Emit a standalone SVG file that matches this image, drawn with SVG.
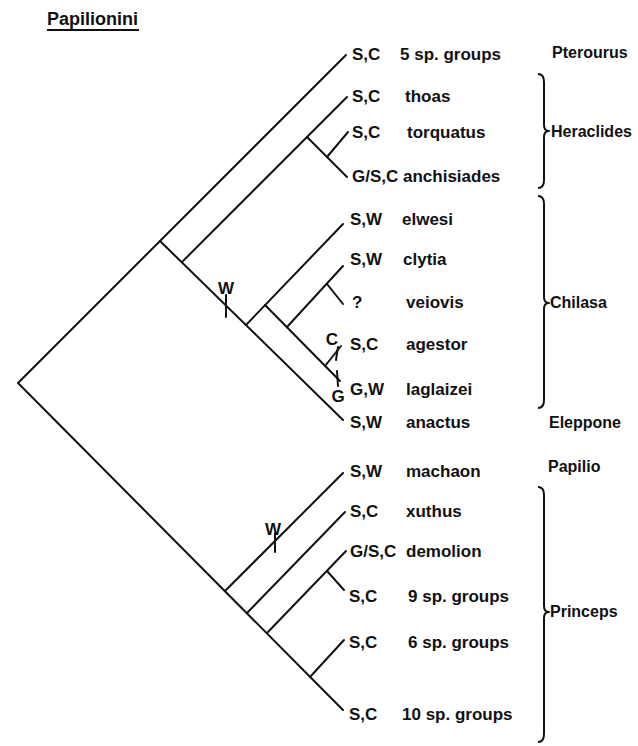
<svg xmlns="http://www.w3.org/2000/svg" width="638" height="746" viewBox="0 0 638 746">
  <style>
    .br { fill: none; stroke: #111; stroke-width: 2; stroke-linecap: round; stroke-linejoin: round; }
    .brace { fill: none; stroke: #111; stroke-width: 2; stroke-linejoin: round; }
    text { font-family: "Liberation Sans", Arial, sans-serif; font-weight: bold; fill: #111; }
    .lb { font-size: 17px; }
    .grp { font-size: 16px; }
    .tk { font-size: 17px; text-anchor: middle; }
    .title { font-size: 18px; }
  </style>
  <rect width="638" height="746" fill="#fff"/>

  <g id="title">
    <text class="title" x="47" y="25">Papilionini</text>
    <line x1="47" y1="30" x2="139" y2="30" stroke="#111" stroke-width="2.2"/>
  </g>

  <!-- tree branches -->
  <g id="connectors" class="br">
    <!-- upper clade -->
    <path d="M346 55 L18 383 L343 710"/>
    <path d="M160 241 L343 420"/>
    <path d="M182 262 L347 97"/>
    <path d="M307 137 L347 177"/>
    <path d="M327 157 L348 132"/>
    <path d="M246 325 L343 224"/>
    <path d="M265 305 L340 381"/>
    <path d="M287 327 L343 266"/>
    <path d="M327 284 L343 304"/>
    <path d="M325 366 L341 346"/>
    <!-- lower clade -->
    <path d="M225 591 L343 473"/>
    <path d="M247 613 L345 512"/>
    <path d="M267 633 L346 551"/>
    <path d="M327 571 L344 590"/>
    <path d="M310 677 L344 640"/>
    <!-- character-state ticks -->
    <path d="M226 295 L226 317"/>
    <path d="M275 533 L275 552"/>
    <path d="M336 360 L338 347"/>
    <path d="M337 371 L338 386"/>
  </g>

  <g id="ticks">
    <text class="tk" x="226" y="294">W</text>
    <text class="tk" x="273" y="535">W</text>
    <text class="tk" x="332" y="345">C</text>
    <text class="tk" x="338" y="402">G</text>
  </g>

  <!-- taxa -->
  <g id="pterourus"><text class="lb" x="352" y="60">S,C</text><text class="lb" x="400" y="60">5 sp. groups</text></g>
  <g id="thoas"><text class="lb" x="352" y="102">S,C</text><text class="lb" x="405" y="102">thoas</text></g>
  <g id="torquatus"><text class="lb" x="352" y="138">S,C</text><text class="lb" x="407" y="138">torquatus</text></g>
  <g id="anchisiades"><text class="lb" x="352" y="182">G/S,C</text><text class="lb" x="403" y="182">anchisiades</text></g>
  <g id="elwesi"><text class="lb" x="350" y="225">S,W</text><text class="lb" x="402" y="225">elwesi</text></g>
  <g id="clytia"><text class="lb" x="350" y="265">S,W</text><text class="lb" x="403" y="265">clytia</text></g>
  <g id="veiovis"><text class="lb" x="352" y="308">?</text><text class="lb" x="406" y="308">veiovis</text></g>
  <g id="agestor"><text class="lb" x="350" y="350">S,C</text><text class="lb" x="406" y="350">agestor</text></g>
  <g id="laglaizei"><text class="lb" x="350" y="395">G,W</text><text class="lb" x="406" y="395">laglaizei</text></g>
  <g id="anactus"><text class="lb" x="350" y="428">S,W</text><text class="lb" x="406" y="428">anactus</text></g>
  <g id="machaon"><text class="lb" x="350" y="477">S,W</text><text class="lb" x="406" y="477">machaon</text></g>
  <g id="xuthus"><text class="lb" x="350" y="517">S,C</text><text class="lb" x="406" y="517">xuthus</text></g>
  <g id="demolion"><text class="lb" x="350" y="557">G/S,C</text><text class="lb" x="406" y="557">demolion</text></g>
  <g id="groups9"><text class="lb" x="349" y="602">S,C</text><text class="lb" x="408" y="602">9 sp. groups</text></g>
  <g id="groups6"><text class="lb" x="349" y="648">S,C</text><text class="lb" x="408" y="648">6 sp. groups</text></g>
  <g id="groups10"><text class="lb" x="349" y="720">S,C</text><text class="lb" x="402" y="720">10 sp. groups</text></g>

  <!-- subgenera -->
  <g id="sg-pterourus"><text class="grp" x="552" y="58">Pterourus</text></g>
  <g id="sg-heraclides">
    <path class="brace" d="M538 74 C542 74 544 76 544 82 L544 125 C544 129 546 131 549 131 C546 131 544 133 544 137 L544 180 C544 186 542 188 538 188"/>
    <text class="grp" x="551" y="137">Heraclides</text>
  </g>
  <g id="sg-chilasa">
    <path class="brace" d="M538 196 C542 196 544 198 544 204 L544 297 C544 301 546 303 549 303 C546 303 544 305 544 309 L544 400 C544 406 542 408 538 408"/>
    <text class="grp" x="550" y="308">Chilasa</text>
  </g>
  <g id="sg-eleppone"><text class="grp" x="549" y="428">Eleppone</text></g>
  <g id="sg-papilio"><text class="grp" x="548" y="472">Papilio</text></g>
  <g id="sg-princeps">
    <path class="brace" d="M538 487 C542 487 544 489 544 495 L544 606 C544 610 546 612 549 612 C546 612 544 614 544 618 L544 734 C544 740 542 742 538 742"/>
    <text class="grp" x="550" y="617">Princeps</text>
  </g>
</svg>
